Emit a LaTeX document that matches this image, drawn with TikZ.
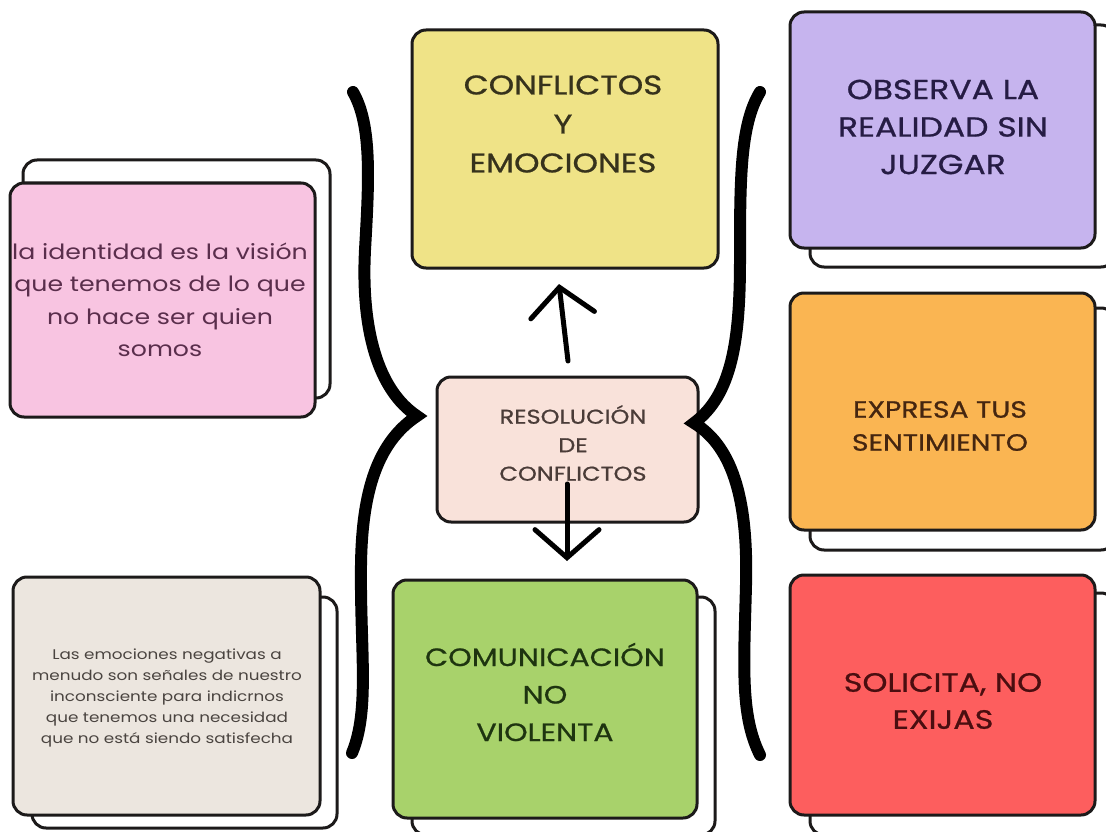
\documentclass[tikz,border=0pt]{standalone}
\usepackage{fontspec}
\setmainfont{Poppins}[FakeStretch=1.2]
\newfontfamily\hdrfont{Poppins}[FakeStretch=1.2, FakeBold=0.8]
\usetikzlibrary{arrows.meta}
\definecolor{cpink}{HTML}{F8C4E1}
\definecolor{cbeige}{HTML}{ECE6DF}
\definecolor{cyellow}{HTML}{EFE387}
\definecolor{cres}{HTML}{F9E2DA}
\definecolor{cgreen}{HTML}{A8D26B}
\definecolor{cpurple}{HTML}{C6B4EE}
\definecolor{corange}{HTML}{FAB552}
\definecolor{cred}{HTML}{FD5E5E}
\definecolor{cedge}{HTML}{1C1A1A}
\definecolor{tpink}{HTML}{5A2E4C}
\definecolor{tbeige}{HTML}{4A4440}
\definecolor{tyellow}{HTML}{36321C}
\definecolor{tres}{HTML}{4A3C38}
\definecolor{tgreen}{HTML}{1E3410}
\definecolor{tpurple}{HTML}{261C44}
\definecolor{torange}{HTML}{452610}
\definecolor{tred}{HTML}{4A0E10}
\tikzset{
  card/.style={draw=cedge, line width=3pt, rounded corners=14pt, inner sep=0pt},
  backcard/.style={card, fill=white},
  lbl/.style={align=center, inner sep=0pt},
  bracestroke/.style={line width=12pt, line cap=round, line join=miter, draw=black},
  arr/.style={line width=5pt, line cap=round, draw=black, -{Straight Barb[length=28pt,width=64pt,line cap=round]}}
}
\begin{document}
\begin{tikzpicture}[x=1pt,y=-1pt]
\useasboundingbox (0,0) rectangle (1106,832);
\fill[white] (0,0) rectangle (1106,832);
% back cards
\node[backcard, minimum width=307pt, minimum height=238pt] (pinkback) at (176.5,279) {};
\node[backcard, minimum width=305pt, minimum height=231pt] (beigeback) at (184.5,712.5) {};
\node[backcard, minimum width=303pt, minimum height=238pt] (greenback) at (563.5,716) {};
\node[backcard, minimum width=305pt, minimum height=242pt] (purpleback) at (962.5,146) {};
\node[backcard, minimum width=305pt, minimum height=242pt] (orangeback) at (962.5,429) {};
\node[backcard, minimum width=305pt, minimum height=242pt] (redback) at (962.5,714) {};
% front cards
\node[card, fill=cpink, minimum width=305pt, minimum height=234pt] (pink) at (162.5,300) {};
\node[card, fill=cbeige, minimum width=307pt, minimum height=238pt] (beige) at (166.5,696) {};
\node[card, fill=cyellow, minimum width=306pt, minimum height=238pt] (yellow) at (565,149) {};
\node[card, fill=cres, minimum width=261pt, minimum height=145pt] (res) at (567.5,449.5) {};
\node[card, fill=cgreen, minimum width=304pt, minimum height=238pt] (green) at (545,699) {};
\node[card, fill=cpurple, minimum width=305pt, minimum height=236pt] (purple) at (942.5,130) {};
\node[card, fill=corange, minimum width=305pt, minimum height=237pt] (orange) at (942.5,411.5) {};
\node[card, fill=cred, minimum width=305pt, minimum height=240pt] (red) at (942.5,695) {};
% texts
\node[lbl, text=tpink, font=\fontsize{21}{32.5}\selectfont] (tpinkn) at (160,300) {la identidad es la visión\\que tenemos de lo que\\no hace ser quien\\somos};
\node[lbl, text=tbeige, font=\fontsize{14}{21}\selectfont] (tbeigen) at (167,698) {Las emociones negativas a\\menudo son señales de nuestro\\inconsciente para indicrnos\\que tenemos una necesidad\\que no está siendo satisfecha};
\node[lbl, text=tyellow, font=\hdrfont\fontsize{27}{39}\selectfont] (tyellown) at (563,124) {CONFLICTOS\\Y\\EMOCIONES};
\node[lbl, text=tres, font=\hdrfont\fontsize{20}{28.5}\selectfont] (tresn) at (573,443) {RESOLUCIÓN\\DE\\CONFLICTOS};
\node[lbl, text=tgreen, font=\hdrfont\fontsize{25}{37.5}\selectfont] (tgreenn) at (545,692) {COMUNICACIÓN\\NO\\VIOLENTA};
\node[lbl, text=tpurple, font=\hdrfont\fontsize{27.5}{37.5}\selectfont] (tpurplen) at (943,127) {OBSERVA LA\\REALIDAD SIN\\JUZGAR};
\node[lbl, text=torange, font=\hdrfont\fontsize{23.5}{33}\selectfont] (torangen) at (940,426) {EXPRESA TUS\\SENTIMIENTO};
\node[lbl, text=tred, font=\hdrfont\fontsize{26.5}{37}\selectfont] (tredn) at (943,701) {SOLICITA, NO\\EXIJAS};
% braces
\draw[bracestroke] (353,92) .. controls (372,125) and (369,180) .. (365,250)
   .. controls (361,330) and (378,390) .. (417,416)
   .. controls (378,442) and (362,490) .. (361,565)
   .. controls (360,650) and (370,710) .. (352,753);
\draw[bracestroke] (760,92) .. controls (740,125) and (740,180) .. (740,260)
   .. controls (740,340) and (732,395) .. (694,423)
   .. controls (735,448) and (748,505) .. (746,585)
   .. controls (744,665) and (740,715) .. (760,755);
% arrows
\coordinate (upstart) at (568,361);
\coordinate (uptip) at (559,284);
\coordinate (dnstart) at (567,484);
\coordinate (dntip) at (567,561);
\draw[arr] (upstart) -- (uptip);
\draw[arr] (dnstart) -- (dntip);
\end{tikzpicture}
\end{document}
